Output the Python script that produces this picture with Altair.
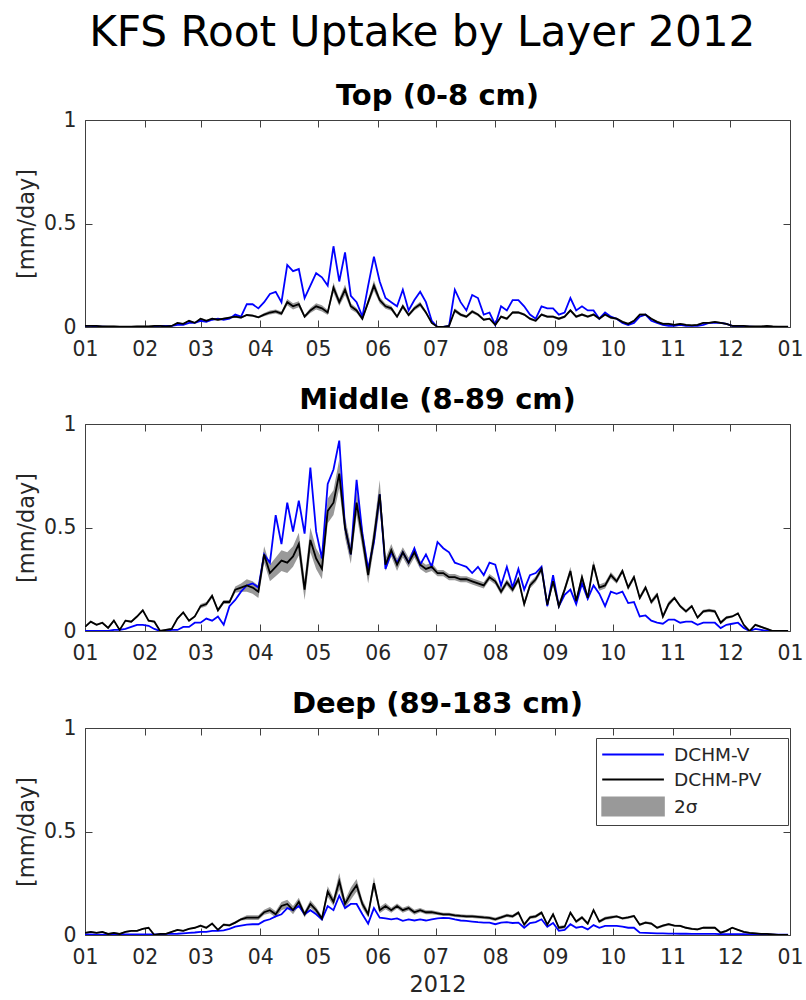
import altair as alt
import pandas as pd
from datetime import date, timedelta

# ---------------- data (3-day samples, day offset from 2012-01-01) ----------------
days = list(range(0, 364, 3)) + [365]

top_v = [
    0.005, 0.005, 0.003, 0.002, 0.0, 0.0, 0.0, 0.0, 0.0, 0.0, 0.0,
    0.0, 0.002, 0.005, 0.005, 0.005, 0.01, 0.01, 0.02, 0.02,
    0.03, 0.025, 0.035, 0.04, 0.035, 0.04, 0.06, 0.05, 0.11, 0.11, 0.09,
    0.12, 0.16, 0.17, 0.12, 0.30, 0.27, 0.28, 0.14, 0.20, 0.26,
    0.24, 0.20, 0.39, 0.22, 0.36, 0.15, 0.12, 0.05, 0.20, 0.34,
    0.22, 0.14, 0.12, 0.10, 0.18, 0.08, 0.13, 0.17, 0.12, 0.03,
    0.0, 0.0, 0.005, 0.18, 0.12, 0.08, 0.155, 0.14, 0.06, 0.07,
    0.01, 0.10, 0.08, 0.13, 0.13, 0.10, 0.06, 0.04, 0.10, 0.09, 0.09,
    0.06, 0.07, 0.14, 0.08, 0.10, 0.08, 0.08, 0.04, 0.07, 0.05,
    0.04, 0.02, 0.01, 0.02, 0.05, 0.06, 0.03, 0.02, 0.01, 0.005,
    0.005, 0.01, 0.005, 0.005, 0.005, 0.01, 0.02, 0.02, 0.02, 0.015,
    0.005, 0.003, 0.002, 0.002, 0.0, 0.0, 0.0, 0.0, 0.0, 0.0, 0.0,
]
top_pv = [
    0.005, 0.005, 0.005, 0.003, 0.003, 0.003, 0.002, 0.002, 0.002, 0.003, 0.003,
    0.003, 0.005, 0.005, 0.003, 0.005, 0.02, 0.015, 0.03, 0.02,
    0.04, 0.03, 0.04, 0.035, 0.04, 0.045, 0.05, 0.045, 0.058, 0.055, 0.047,
    0.06, 0.07, 0.075, 0.065, 0.12, 0.10, 0.11, 0.05, 0.08, 0.10,
    0.09, 0.07, 0.19, 0.12, 0.18, 0.10, 0.08, 0.04, 0.12, 0.20,
    0.13, 0.10, 0.09, 0.05, 0.10, 0.058, 0.09, 0.11, 0.07, 0.02,
    0.0, 0.0, 0.005, 0.08, 0.06, 0.05, 0.075, 0.06, 0.035, 0.04,
    0.01, 0.05, 0.04, 0.07, 0.07, 0.06, 0.04, 0.03, 0.06, 0.05, 0.05,
    0.04, 0.05, 0.08, 0.05, 0.06, 0.05, 0.06, 0.04, 0.06, 0.045,
    0.04, 0.025, 0.015, 0.03, 0.06, 0.06, 0.04, 0.025, 0.015, 0.015,
    0.01, 0.015, 0.01, 0.008, 0.01, 0.02, 0.02, 0.025, 0.02, 0.015,
    0.005, 0.005, 0.005, 0.003, 0.003, 0.003, 0.005, 0.003, 0.002, 0.002, 0.002,
]
top_sig = [
    0.003, 0.003, 0.003, 0.003, 0.003, 0.003, 0.003, 0.003, 0.003, 0.003, 0.003,
    0.003, 0.003, 0.003, 0.003, 0.003, 0.003, 0.003, 0.003, 0.003,
    0.005, 0.005, 0.005, 0.005, 0.005, 0.005, 0.005, 0.005, 0.005, 0.005, 0.005,
    0.008, 0.01, 0.01, 0.01, 0.015, 0.015, 0.015, 0.008, 0.012, 0.015,
    0.015, 0.012, 0.025, 0.018, 0.025, 0.015, 0.012, 0.008, 0.015, 0.025,
    0.015, 0.012, 0.012, 0.008, 0.012, 0.008, 0.01, 0.012, 0.008, 0.004,
    0.002, 0.002, 0.002, 0.01, 0.008, 0.007, 0.008, 0.007, 0.005, 0.005,
    0.006, 0.006, 0.006, 0.006, 0.006, 0.006, 0.006, 0.006, 0.006, 0.006, 0.006,
    0.006, 0.006, 0.008, 0.006, 0.006, 0.006, 0.006, 0.006, 0.006, 0.006,
    0.005, 0.005, 0.005, 0.005, 0.005, 0.005, 0.005, 0.005, 0.005, 0.005,
    0.004, 0.004, 0.004, 0.004, 0.004, 0.004, 0.004, 0.004, 0.004, 0.004,
    0.003, 0.003, 0.003, 0.003, 0.003, 0.003, 0.003, 0.003, 0.003, 0.003, 0.003,
]

mid_v = [
    0.0, 0.0, 0.0, 0.0, 0.0, 0.005, 0.005, 0.01, 0.02, 0.03, 0.03,
    0.025, 0.01, 0.0, 0.0, 0.005, 0.005, 0.02, 0.02, 0.04,
    0.04, 0.06, 0.05, 0.07, 0.03, 0.12, 0.15, 0.19, 0.22, 0.23, 0.21,
    0.37, 0.33, 0.56, 0.42, 0.62, 0.48, 0.63, 0.47, 0.79, 0.48,
    0.35, 0.71, 0.78, 0.92, 0.50, 0.37, 0.73, 0.47, 0.30, 0.43,
    0.66, 0.30, 0.38, 0.33, 0.38, 0.33, 0.40, 0.32, 0.37, 0.31,
    0.43, 0.40, 0.38, 0.33, 0.32, 0.31, 0.28, 0.31, 0.27, 0.33,
    0.32, 0.22, 0.31, 0.21, 0.30, 0.20, 0.27, 0.28, 0.31, 0.12, 0.27,
    0.12, 0.175, 0.20, 0.13, 0.23, 0.155, 0.22, 0.18, 0.12, 0.19,
    0.18, 0.19, 0.135, 0.14, 0.07, 0.075, 0.05, 0.04, 0.035, 0.055,
    0.055, 0.04, 0.045, 0.045, 0.03, 0.04, 0.04, 0.04, 0.014, 0.03,
    0.035, 0.04, 0.015, 0.0, 0.01, 0.005, 0.0, 0.0, 0.0, 0.0, 0.0,
]
mid_pv = [
    0.02, 0.045, 0.03, 0.04, 0.015, 0.05, 0.005, 0.05, 0.045, 0.07, 0.10,
    0.05, 0.045, 0.0, 0.005, 0.01, 0.06, 0.09, 0.05, 0.07,
    0.12, 0.13, 0.17, 0.10, 0.14, 0.14, 0.20, 0.21, 0.22, 0.21, 0.19,
    0.37, 0.28, 0.31, 0.34, 0.33, 0.36, 0.42, 0.20, 0.44, 0.35,
    0.30, 0.58, 0.62, 0.76, 0.50, 0.37, 0.62, 0.45, 0.27, 0.45,
    0.66, 0.32, 0.39, 0.32, 0.38, 0.33, 0.38, 0.32, 0.30, 0.31,
    0.28, 0.28, 0.26, 0.26, 0.25, 0.25, 0.24, 0.23, 0.22, 0.26,
    0.24, 0.19, 0.235, 0.20, 0.25, 0.13, 0.22, 0.25, 0.30, 0.127, 0.24,
    0.12, 0.20, 0.29, 0.145, 0.26, 0.16, 0.32, 0.21, 0.22, 0.27,
    0.24, 0.29, 0.21, 0.26, 0.16, 0.21, 0.14, 0.175, 0.07, 0.13,
    0.16, 0.12, 0.095, 0.12, 0.065, 0.095, 0.10, 0.095, 0.04, 0.065,
    0.07, 0.085, 0.03, 0.0, 0.03, 0.02, 0.01, 0.0, 0.0, 0.0, 0.0,
]
mid_sig = [
    0.005, 0.005, 0.005, 0.005, 0.005, 0.005, 0.005, 0.005, 0.005, 0.005, 0.005,
    0.005, 0.005, 0.005, 0.005, 0.005, 0.005, 0.005, 0.005, 0.005,
    0.01, 0.01, 0.01, 0.01, 0.01, 0.01, 0.015, 0.02, 0.03, 0.03, 0.03,
    0.04, 0.04, 0.045, 0.05, 0.05, 0.05, 0.055, 0.05, 0.06, 0.05,
    0.05, 0.06, 0.06, 0.07, 0.05, 0.045, 0.06, 0.05, 0.04, 0.05,
    0.07, 0.03, 0.03, 0.03, 0.025, 0.025, 0.025, 0.02, 0.02, 0.02,
    0.015, 0.015, 0.015, 0.015, 0.015, 0.015, 0.015, 0.015, 0.015, 0.015,
    0.015, 0.015, 0.015, 0.015, 0.015, 0.015, 0.015, 0.015, 0.015, 0.015, 0.015,
    0.015, 0.015, 0.02, 0.015, 0.015, 0.015, 0.02, 0.015, 0.015, 0.015,
    0.012, 0.012, 0.012, 0.012, 0.012, 0.012, 0.012, 0.012, 0.012, 0.012,
    0.008, 0.008, 0.008, 0.008, 0.008, 0.008, 0.008, 0.008, 0.008, 0.008,
    0.005, 0.005, 0.005, 0.005, 0.005, 0.005, 0.005, 0.005, 0.005, 0.005, 0.003,
]

deep_v = [
    0.003, 0.003, 0.002, 0.002, 0.002, 0.002, 0.003, 0.003, 0.003, 0.003, 0.003,
    0.003, 0.003, 0.003, 0.005, 0.005, 0.006, 0.008, 0.01, 0.012,
    0.015, 0.015, 0.02, 0.02, 0.022, 0.03, 0.04, 0.045, 0.05, 0.052, 0.052,
    0.068, 0.076, 0.09, 0.10, 0.13, 0.12, 0.14, 0.10, 0.12, 0.10,
    0.075, 0.14, 0.12, 0.19, 0.13, 0.15, 0.15, 0.10, 0.055, 0.13,
    0.084, 0.08, 0.076, 0.08, 0.068, 0.075, 0.07, 0.075, 0.07, 0.076,
    0.08, 0.083, 0.082, 0.075, 0.07, 0.068, 0.065, 0.062, 0.06, 0.06,
    0.052, 0.06, 0.062, 0.058, 0.06, 0.035, 0.058, 0.062, 0.076, 0.04, 0.058,
    0.02, 0.025, 0.052, 0.035, 0.04, 0.027, 0.048, 0.035, 0.044, 0.044,
    0.044, 0.04, 0.035, 0.035, 0.011, 0.01, 0.009, 0.008, 0.008, 0.007,
    0.007, 0.006, 0.006, 0.005, 0.005, 0.005, 0.005, 0.005, 0.004, 0.004,
    0.004, 0.004, 0.004, 0.003, 0.003, 0.003, 0.003, 0.002, 0.002, 0.002, 0.002,
]
deep_pv = [
    0.01, 0.015, 0.01, 0.015, 0.005, 0.01, 0.005, 0.015, 0.02, 0.02, 0.03,
    0.035, 0.0, 0.005, 0.005, 0.015, 0.025, 0.02, 0.03, 0.035,
    0.045, 0.035, 0.055, 0.025, 0.05, 0.047, 0.06, 0.076, 0.084, 0.084, 0.084,
    0.11, 0.12, 0.10, 0.14, 0.15, 0.12, 0.16, 0.10, 0.15, 0.12,
    0.08, 0.21, 0.16, 0.26, 0.15, 0.20, 0.24, 0.15, 0.10, 0.25,
    0.12, 0.14, 0.12, 0.14, 0.12, 0.13, 0.11, 0.12, 0.11, 0.11,
    0.105, 0.10, 0.10, 0.095, 0.092, 0.09, 0.09, 0.088, 0.085, 0.083,
    0.076, 0.085, 0.095, 0.09, 0.108, 0.05, 0.085, 0.09, 0.108, 0.05, 0.10,
    0.035, 0.04, 0.108, 0.065, 0.085, 0.055, 0.12, 0.065, 0.08, 0.085,
    0.09, 0.08, 0.085, 0.092, 0.05, 0.06, 0.055, 0.035, 0.045, 0.052,
    0.045, 0.044, 0.035, 0.03, 0.027, 0.035, 0.035, 0.035, 0.011, 0.02,
    0.035, 0.025, 0.015, 0.01, 0.008, 0.005, 0.005, 0.003, 0.0, 0.0, 0.0,
]
deep_sig = [
    0.004, 0.004, 0.004, 0.004, 0.004, 0.004, 0.004, 0.004, 0.004, 0.004, 0.004,
    0.004, 0.004, 0.004, 0.004, 0.004, 0.004, 0.004, 0.004, 0.004,
    0.006, 0.006, 0.006, 0.006, 0.006, 0.006, 0.006, 0.006, 0.012, 0.012, 0.012,
    0.012, 0.015, 0.015, 0.02, 0.02, 0.02, 0.02, 0.015, 0.018, 0.015,
    0.012, 0.025, 0.02, 0.04, 0.02, 0.03, 0.03, 0.02, 0.015, 0.03,
    0.015, 0.015, 0.012, 0.012, 0.012, 0.012, 0.012, 0.01, 0.01, 0.01,
    0.008, 0.008, 0.008, 0.008, 0.008, 0.008, 0.008, 0.008, 0.008, 0.008,
    0.008, 0.008, 0.008, 0.008, 0.008, 0.008, 0.008, 0.008, 0.008, 0.008, 0.008,
    0.008, 0.008, 0.008, 0.008, 0.008, 0.008, 0.008, 0.008, 0.008, 0.008,
    0.006, 0.006, 0.006, 0.006, 0.006, 0.006, 0.006, 0.006, 0.006, 0.006,
    0.005, 0.005, 0.005, 0.005, 0.005, 0.005, 0.005, 0.005, 0.005, 0.005,
    0.004, 0.004, 0.004, 0.004, 0.004, 0.004, 0.004, 0.004, 0.004, 0.004, 0.004,
]

for arr in (top_v, top_pv, top_sig, mid_v, mid_pv, mid_sig, deep_v, deep_pv, deep_sig):
    assert len(arr) == len(days), len(arr)

series_names = ["DCHM-V", "DCHM-PV", "2σ"]
series_colors = ["#0000ff", "#000000", "#999999"]
panel_titles = ["Top (0-8 cm)", "Middle (8-89 cm)", "Deep (89-183 cm)"]
y_ticks = [0, 0.5, 1]

# ---------------- styling ----------------
FONT = "DejaVu Sans"
TXT = "#262626"
FRAME = "#404040"
W, H = 705, 207
TICK = 7
LBL = 20.4
AXT = 22.4

dates = [(date(2012, 1, 1) + timedelta(days=d)).strftime("%Y-%m-%dT00:00:00") for d in days]
month_ticks = [alt.DateTime(year=2012, month=m, date=1) for m in range(1, 13)] + [
    alt.DateTime(year=2013, month=1, date=1)
]
x_scale = alt.Scale(
    domain=[alt.DateTime(year=2012, month=1, date=1), alt.DateTime(year=2013, month=1, date=1)],
    nice=False,
)
y_scale = alt.Scale(domain=[0, 1], nice=False)


def x_axis(title):
    kw = dict(
        values=month_ticks, format="%m", grid=True, gridDash=[TICK, H - 2 * TICK, TICK],
        gridColor=FRAME, gridWidth=1, gridOpacity=1, ticks=False, tickSize=0, domain=False,
        labelPadding=12, labelFontSize=LBL, labelFont=FONT, labelColor=TXT,
        labelFlush=False, labelOverlap=False, labelBound=False,
        titleFont=FONT, titleFontSize=AXT, titleFontWeight="normal", titleColor=TXT, titlePadding=6,
    )
    return alt.Axis(title=title, **kw)


y_axis = alt.Axis(
    values=y_ticks, format="~g", grid=True, gridDash=[TICK, W - 2 * TICK, TICK],
    gridColor=FRAME, gridWidth=1, gridOpacity=1, ticks=False, tickSize=0, domain=False,
    labelPadding=9, labelFontSize=LBL, labelFont=FONT, labelColor=TXT, labelFlush=False,
    title="[mm/day]", titleFont=FONT, titleFontSize=AXT, titleFontWeight="normal",
    titleColor=TXT, titlePadding=5,
)

# legend glyphs: a 6-unit line / band swatch; the trailing move-to only widens the legend box
LINE_SYM = "M-1,0H5M16.2,0"
BAND_SYM = "M-1,-0.875H5V0.875H-1ZM16.2,0"


def panel(v, pv, sig, title, bottom):
    df = pd.DataFrame({"date": dates, "v": v, "pv": pv, "sig": sig})
    df["lo"] = df["pv"] - df["sig"]
    df["hi"] = df["pv"] + df["sig"]
    x = alt.X("date:T", scale=x_scale, axis=x_axis("2012" if bottom else None))
    ttl = alt.TitleParams(
        text=title, font=FONT, fontSize=29, fontWeight="bold", color="black",
        anchor="middle", frame="group", offset=-1,
    )
    base = alt.Chart(df)
    if not bottom:
        band = base.mark_area(color=series_colors[2], opacity=1, clip=True).encode(
            x=x, y=alt.Y("lo:Q", scale=y_scale, axis=y_axis), y2="hi:Q"
        )
        blue = base.mark_line(color=series_colors[0], strokeWidth=1.8, clip=True).encode(
            x=x, y=alt.Y("v:Q", scale=y_scale)
        )
        black = base.mark_line(color=series_colors[1], strokeWidth=1.8, clip=True).encode(
            x=x, y=alt.Y("pv:Q", scale=y_scale)
        )
    else:
        df["band"] = series_names[2]
        df["s_v"] = series_names[0]
        df["s_pv"] = series_names[1]
        base = alt.Chart(df)
        cscale = alt.Scale(domain=series_names, range=series_colors)
        leg = alt.Legend(
            title=None, orient="none", legendX=511, legendY=10, padding=5, rowPadding=4,
            symbolType={
                "expr": f"datum.value === '2σ' ? '{BAND_SYM}' : '{LINE_SYM}'"
            },
            symbolSize=423, labelOffset=50,
            labelFont=FONT, labelFontSize=18.5, labelColor=TXT, symbolOpacity=1,
            strokeColor=FRAME, fillColor="white",
            symbolFillColor={"expr": "datum.value === '2σ' ? '#999999' : 'transparent'"},
            symbolStrokeColor={
                "expr": "datum.value === 'DCHM-V' ? '#0000ff' : datum.value === 'DCHM-PV' ? '#000000' : 'transparent'"
            },
            symbolStrokeWidth=1.8,
        )
        band = base.mark_area(opacity=1, clip=True).encode(
            x=x, y=alt.Y("lo:Q", scale=y_scale, axis=y_axis), y2="hi:Q",
            color=alt.Color("band:N", scale=cscale, legend=leg),
        )
        blue = base.mark_line(strokeWidth=1.8, clip=True).encode(
            x=x, y=alt.Y("v:Q", scale=y_scale),
            color=alt.Color("s_v:N", scale=cscale, legend=leg),
        )
        black = base.mark_line(strokeWidth=1.8, clip=True).encode(
            x=x, y=alt.Y("pv:Q", scale=y_scale),
            color=alt.Color("s_pv:N", scale=cscale, legend=leg),
        )
    return alt.layer(band, blue, black).properties(width=W, height=H, title=ttl)


p1 = panel(top_v, top_pv, top_sig, panel_titles[0], False)
p2 = panel(mid_v, mid_pv, mid_sig, panel_titles[1], False)
p3 = panel(deep_v, deep_pv, deep_sig, panel_titles[2], True)

chart = (
    alt.vconcat(p1, p2, p3, spacing=25)
    .properties(
        title=alt.TitleParams(
            text="KFS Root Uptake by Layer 2012", font=FONT, fontSize=42.2, fontWeight="normal",
            color="black", anchor="middle", offset=26, dx=13,
        ),
        padding={"left": 15, "top": 12, "right": 0, "bottom": 0},
        background="white",
    )
    .resolve_scale(color="independent")
    .resolve_legend(color="independent")
    .configure_view(stroke=FRAME, strokeWidth=1)
)

chart.save("out.html", embed_options={"renderer": "svg", "actions": False})
